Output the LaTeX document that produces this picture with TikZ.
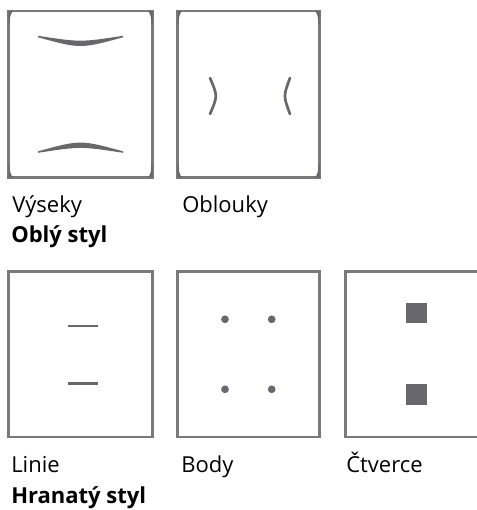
\documentclass[tikz,border=0pt]{standalone}
\usepackage{fontspec}
\setmainfont{Open Sans}
\usepackage{tikz}
\usetikzlibrary{positioning}
\definecolor{framegray}{HTML}{7A7A7A}
\definecolor{markgray}{HTML}{68686C}

\begin{document}
\begin{tikzpicture}[x=0.75pt, y=-0.75pt,
  font=\fontsize{16.5}{20}\selectfont,
  frame/.style={draw=framegray, line width=1.9pt},
  markfill/.style={fill=markgray, draw=none},
  markline/.style={draw=markgray, line width=2pt, line cap=round},
  capt/.style={anchor=base west, inner sep=0pt},
  heading/.style={capt, font=\fontsize{16.5}{20}\selectfont\bfseries}]
  \useasboundingbox (0,0) rectangle (477,510);

  % rounded style: frames with corner wedges
  \foreach \xa/\xb in {8.5/152.5, 177.5/319.5} {
    \draw[frame] (\xa,11) rectangle (\xb,177.5);
    \foreach \cx/\sx in {\xa/1, \xb/-1}
      \foreach \cy/\sy in {11/1, 177.5/-1}
        \fill[markfill, shift={(\cx,\cy)}, xscale=\sx, yscale=\sy]
          (0,0) -- (4.5,0) .. controls (1.5,3) and (1.2,8) .. (1.2,13)
          -- (0,13) -- cycle;
  }

  % sectors
  \fill[markfill] (38,35.8) .. controls (80.5,42.3) .. (123,35.8)
    -- (123,37.3) .. controls (80.5,48.9) .. (38,37.3) -- cycle;
  \fill[markfill] (38,152.8) .. controls (80.5,146.3) .. (123,152.8)
    -- (123,151.3) .. controls (80.5,139.7) .. (38,151.3) -- cycle;

  % arcs
  \draw[markline] (210,78) .. controls (217.7,96) .. (210,114);
  \draw[markline] (290,78) .. controls (283.3,96) .. (290,114);

  \node[capt] (vyseky) at (12,212) {Výseky};
  \node[capt] (oblouky) at (182,212) {Oblouky};
  \node[heading] (obly) at (11,242) {Oblý styl};

  % angular style
  \draw[frame] (8.5,271.5) rectangle (152.5,437);
  \draw[frame] (177.5,271.5) rectangle (319.5,437);
  \draw[frame] (478,271.5) -- (345.7,271.5) -- (345.7,437) -- (478,437);

  % lines
  \draw[markline, line cap=butt] (68,326) -- (98,326);
  \draw[markline, line cap=butt] (68,383.3) -- (98,383.3);

  % dots
  \foreach \px in {225, 271.7}
    \foreach \py in {319.3, 389.3}
      \fill[markgray] (\px,\py) circle[radius=2.9pt];

  % squares
  \fill[markgray] (406,302.7) rectangle (426.7,323);
  \fill[markgray] (406,384) rectangle (426.7,404.7);

  \node[capt] (linie) at (11,472) {Linie};
  \node[capt] (body) at (181,472) {Body};
  \node[capt] (ctverce) at (346,472) {Čtverce};
  \node[heading] (hranaty) at (11,503) {Hranatý styl};
\end{tikzpicture}
\end{document}
